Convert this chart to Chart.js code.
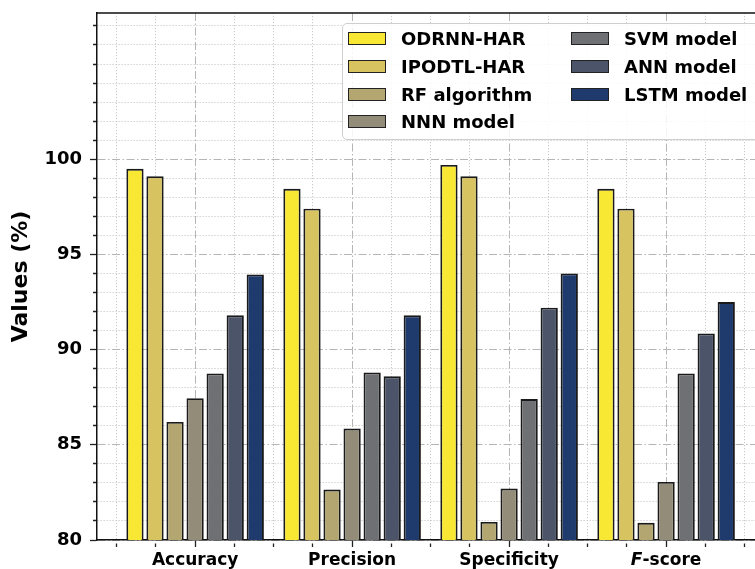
<!DOCTYPE html>
<html>
<head>
<meta charset="utf-8">
<title>Values (%)</title>
<script src="https://cdn.jsdelivr.net/npm/chart.js@4.4.1/dist/chart.umd.min.js"></script>
<style>
  html, body { margin: 0; padding: 0; width: 755px; height: 569px; overflow: hidden; background: #fff; }
  #wrap { position: absolute; left: 0; top: 0; width: 772px; height: 600px; }
  #c { display: block; }
  #legend {
    position: absolute; left: 342px; top: 23px; width: 430px; height: 117px;
    box-sizing: border-box; border: 1px solid #cfcfcf; border-radius: 5px;
    background: rgba(255, 255, 255, 0.85);
    font: bold 18px "DejaVu Sans", sans-serif; color: #000;
  }
  .item { position: absolute; height: 20px; display: flex; align-items: center; white-space: nowrap; }
  .swatch { width: 38px; height: 13px; box-sizing: border-box; border: 1.5px solid #222; margin-right: 15px; }
</style>
</head>
<body>
<div id="wrap">
  <canvas id="c" width="772" height="600"></canvas>
  <div id="legend"></div>
</div>
<script>
// Metrics and methods
const categories = ['Accuracy', 'Precision', 'Specificity', 'F-score'];
const seriesNames = ['ODRNN-HAR', 'IPODTL-HAR', 'RF algorithm', 'NNN model', 'SVM model', 'ANN model', 'LSTM model'];

// Values (%) per method, in the order of categories
const odrnnHar   = [99.5, 98.45, 99.7, 98.45];
const ipodtlHar  = [99.1, 97.4, 99.1, 97.4];
const rfAlgo     = [86.2, 82.65, 80.95, 80.9];
const nnnModel   = [87.45, 85.85, 82.7, 83.05];
const svmModel   = [88.75, 88.8, 87.4, 88.75];
const annModel   = [91.8, 88.6, 92.2, 90.85];
const lstmModel  = [93.95, 91.8, 94.0, 92.5];

// Labelled y ticks
const yTickLabels = [80, 85, 90, 95, 100];

const barColors = ['#f8e833', '#d7c35f', '#b3a670', '#938c78', '#6f7074', '#4b5469', '#1f3a6d'];
const valueSets = [odrnnHar, ipodtlHar, rfAlgo, nnnModel, svmModel, annModel, lstmModel];

const FONT = '"DejaVu Sans", sans-serif';
const X_LABEL_SIZE = 17;
const X_TICK_LEN = 7;
const X_TICK_PAD = 3;

// Minor ticks every quarter category on x, every unit on y
const nearInt = v => Math.abs(v - Math.round(v)) < 1e-6;
const isMajorX = v => nearInt(v);
const isMajorY = v => yTickLabels.includes(v);

const DASH_DOT = [8, 2.5, 1.5, 2.5];
const DOTTED = [1.2, 1.8];
const MINOR_TICK = [0, 3, 4, 100];   // only the inner 4px of the tick mark is stroked

function gridStyle(isMajor) {
  return {
    offset: false,
    color: ctx => (ctx.tick && isMajor(ctx.tick.value)) ? '#b5b5b5' : '#c8c8c8',
    lineWidth: 1,
    tickLength: X_TICK_LEN,
    tickColor: '#222',
    tickWidth: 1.3,
    tickBorderDash: ctx => (ctx.tick && isMajor(ctx.tick.value)) ? [] : MINOR_TICK
  };
}
function borderStyle(isMajor) {
  return {
    display: true,
    color: '#111',
    width: 1.5,
    dash: ctx => ctx.tick ? (isMajor(ctx.tick.value) ? DASH_DOT : DOTTED) : []
  };
}

// Top and right spines of the axes box
const frameSpines = {
  id: 'frameSpines',
  afterDraw(chart) {
    const {ctx, chartArea: a} = chart;
    ctx.save();
    ctx.strokeStyle = '#111';
    ctx.lineWidth = 1.5;
    ctx.beginPath();
    ctx.moveTo(a.left, a.top);
    ctx.lineTo(a.right, a.top);
    ctx.lineTo(a.right, a.bottom);
    ctx.stroke();
    ctx.restore();
  }
};

// "F-score" with an italic F, placed where the category tick label goes
const italicCategoryLabel = {
  id: 'italicCategoryLabel',
  afterDraw(chart) {
    const xs = chart.scales.x;
    const idx = categories.indexOf('F-score');
    const {ctx} = chart;
    const cx = xs.getPixelForValue(idx);
    const cy = xs.top + X_TICK_LEN + X_TICK_PAD + X_LABEL_SIZE * 1.2 / 2;
    const head = 'F', tail = '-score';
    ctx.save();
    ctx.fillStyle = '#000';
    ctx.textBaseline = 'middle';
    ctx.textAlign = 'left';
    ctx.font = `italic bold ${X_LABEL_SIZE}px ${FONT}`;
    const w1 = ctx.measureText(head).width;
    ctx.font = `bold ${X_LABEL_SIZE}px ${FONT}`;
    const w2 = ctx.measureText(tail).width;
    const x0 = cx - (w1 + w2) / 2;
    ctx.font = `italic bold ${X_LABEL_SIZE}px ${FONT}`;
    ctx.fillText(head, x0, cy);
    ctx.font = `bold ${X_LABEL_SIZE}px ${FONT}`;
    ctx.fillText(tail, x0 + w1, cy);
    ctx.restore();
  }
};

// Fixed axis footprint; no extra room reserved for edge tick labels
function fixSize(width, height) {
  return s => {
    if (width != null) s.width = width;
    if (height != null) s.height = height;
    s.paddingTop = 0; s.paddingBottom = 0;
    s.paddingLeft = 0; s.paddingRight = 0;
  };
}

const chart = new Chart(document.getElementById('c'), {
  type: 'bar',
  data: {
    datasets: seriesNames.map((name, i) => ({
      label: name,
      data: valueSets[i].map((v, k) => ({x: k, y: v})),
      backgroundColor: barColors[i],
      borderColor: '#1a1a1a',
      borderWidth: 1.9,
      borderSkipped: false,
      // the bar ruler uses the quarter-category tick spacing, so the group spans ~0.894 of a category
      categoryPercentage: 3.576,
      barPercentage: 0.86
    }))
  },
  plugins: [frameSpines, italicCategoryLabel],
  options: {
    responsive: false,
    animation: false,
    layout: { padding: { top: 13, right: 7, bottom: 0, left: 0 } },
    plugins: {
      legend: { display: false },
      tooltip: { enabled: false }
    },
    scales: {
      x: {
        type: 'linear',
        offset: false,
        min: -0.625,
        max: 3.63,
        grid: gridStyle(isMajorX),
        border: borderStyle(isMajorX),
        ticks: {
          stepSize: 0.25,
          autoSkip: false,
          includeBounds: false,
          maxRotation: 0,
          padding: X_TICK_PAD,
          color: '#000',
          font: { family: FONT, size: X_LABEL_SIZE, weight: 'bold' },
          callback: v => {
            if (!isMajorX(v)) return '';
            const name = categories[Math.round(v)];
            return (name && name !== 'F-score') ? name : '';
          }
        },
        afterFit: fixSize(null, 60)
      },
      y: {
        min: 80,
        max: 107.68,
        grid: gridStyle(isMajorY),
        border: borderStyle(isMajorY),
        ticks: {
          stepSize: 1,
          autoSkip: false,
          includeBounds: false,
          padding: 8,
          color: '#000',
          font: { family: FONT, size: 18, weight: 'bold' },
          callback: v => isMajorY(v) ? String(v) : ''
        },
        title: {
          display: true,
          text: 'Values (%)',
          color: '#000',
          font: { family: FONT, size: 22, weight: 'bold' },
          padding: { top: 8, bottom: 0 }
        },
        afterFit: fixSize(97, null)
      }
    }
  }
});

// Two-column legend, filled column by column
const legendEl = document.getElementById('legend');
const ROWS = 4;
chart.data.datasets.forEach((ds, i) => {
  const col = Math.floor(i / ROWS), row = i % ROWS;
  const item = document.createElement('div');
  item.className = 'item';
  item.style.left = (col === 0 ? 5 : 228) + 'px';
  item.style.top = (4.5 + row * 27.8) + 'px';
  const sw = document.createElement('span');
  sw.className = 'swatch';
  sw.style.background = ds.backgroundColor;
  const txt = document.createElement('span');
  txt.textContent = ds.label;
  item.appendChild(sw);
  item.appendChild(txt);
  legendEl.appendChild(item);
});
</script>
</body>
</html>
